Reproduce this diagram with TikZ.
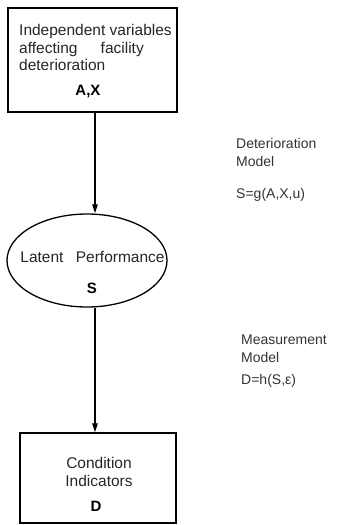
\documentclass[tikz,border=0pt]{standalone}
\usepackage{fontspec}
\setmainfont{Liberation Sans}
\usetikzlibrary{positioning,arrows.meta,shapes.geometric}

\begin{document}
\begin{tikzpicture}[x=1pt, y=-1pt,
  box/.style={draw, line width=1.5pt, inner sep=0pt},
  latentbox/.style={draw, ellipse, line width=1.3pt, inner sep=0pt},
  txt/.style={font=\fontsize{15.5}{17.5}\selectfont, inner sep=0pt, black!85},
  sym/.style={font=\fontsize{15}{17.5}\selectfont\bfseries, inner sep=0pt},
  side/.style={font=\fontsize{14}{18}\selectfont, anchor=west, inner sep=0pt, black!80},
  arr/.style={-{Triangle[length=9pt,width=5.5pt]}, line width=1.3pt},
]
\useasboundingbox (0,0) rectangle (339,525);

% the three stages
\node[box, minimum width=169pt, minimum height=104pt] (indep) at (92.5,60) {};
\node[latentbox, minimum width=160pt, minimum height=93pt] (latent) at (87,260.5) {};
\node[box, minimum width=156pt, minimum height=90pt] (cond) at (98,478) {};

\node[txt, align=left, anchor=west] (indeptxt) at (19,47.5)
  {Independent variables\\affecting\hspace{1.5em}facility\\deterioration};
\node[sym] (AX) at (88,91) {A,X};

\node[txt] (latenttxt) at (92.5,257) {Latent\hspace{0.8em}Performance};
\node[sym] (S) at (92,288) {S};

\node[txt, align=center] (condtxt) at (99,472) {Condition\\Indicators};
\node[sym] (D) at (96,506) {D};

% links
\draw[arr] ([xshift=2.5pt]indep.south) -- ([xshift=2.5pt]indep.south |- latent.north);
\draw[arr] ([xshift=8pt]latent.south) -- ([xshift=8pt]latent.south |- cond.north);

% model labels on the right
\node[side, align=left] (detmodel) at (236,152) {Deterioration\\Model};
\node[side] (gfun) at (236,195) {S=g(A,X,u)};
\node[side, align=left] (measmodel) at (241,349) {Measurement\\Model};
\node[side] (hfun) at (241,381) {D=h(S,ε)};
\end{tikzpicture}
\end{document}
